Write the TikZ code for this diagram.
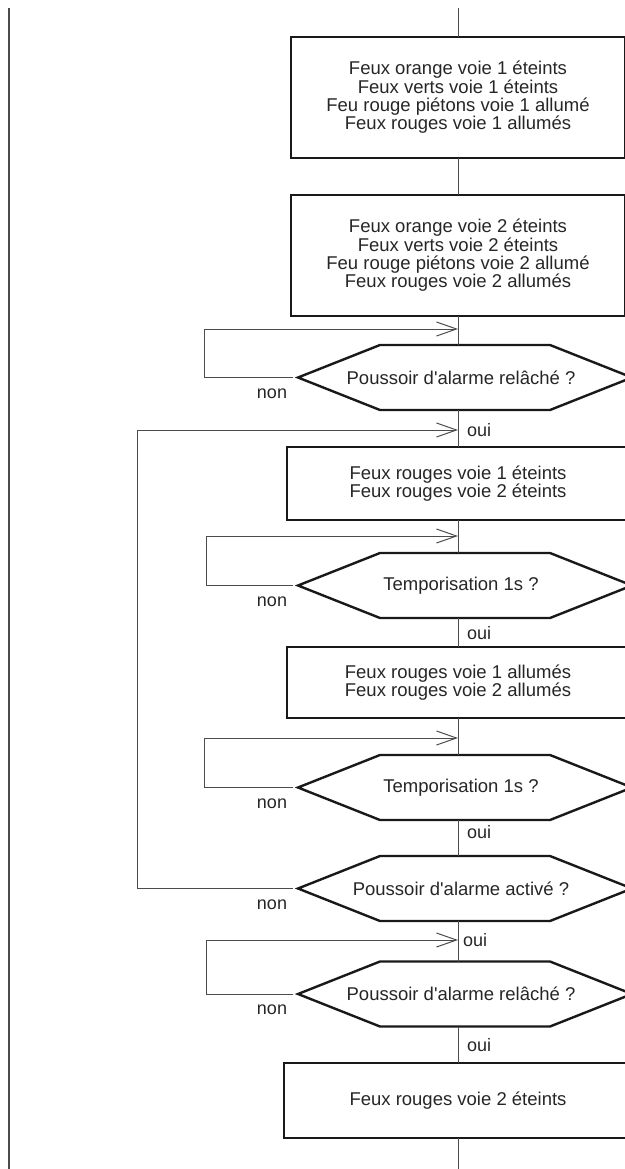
\documentclass[tikz,border=0pt]{standalone}
\usepackage{fontspec}
\setmainfont{Liberation Sans}
\usetikzlibrary{arrows.meta}
\newcommand{\hexa}[3]{%
  \draw[hexline] (298,#2) -- (380,{#2-32.5}) -- (550,{#2-32.5}) -- (632,#2) -- (550,{#2+32.5}) -- (380,{#2+32.5}) -- cycle;
  \node[htext] (#1) at (461,#2) {#3};
  \coordinate (#1-n) at (458,{#2-32.5});
  \coordinate (#1-s) at (458,{#2+32.5});
  \coordinate (#1-l) at (293,#2);
  \node[lbl] (#1-non) at (272,{#2+16}) {non};
}
\begin{document}
\begin{tikzpicture}[x=1pt,y=-1pt,
  box/.style={draw=black!90, line width=2.4pt, inner sep=0pt, outer sep=0pt, align=center,
    font=\fontsize{18.5}{18.4}\selectfont, text=black!85},
  hexline/.style={draw=black!90, line width=2.4pt, line join=miter},
  htext/.style={inner sep=0pt, font=\fontsize{18.5}{18.4}\selectfont, text=black!85},
  link/.style={draw=black!70, line width=1pt},
  arr/.style={link, -{Straight Barb[length=20pt,width=14pt]}},
  lbl/.style={font=\fontsize{18}{18}\selectfont, text=black!85, inner sep=0pt}]
\useasboundingbox (0,0) rectangle (624,1169);

% left margin line
\coordinate (lt) at (9,8);
\coordinate (lb) at (9,1169);
\draw[link, line width=1.3pt] (lt) -- (lb);

% process boxes
\node[box, minimum width=334pt, minimum height=121pt] (b1) at (458,97.5)
  {Feux orange voie 1 éteints\\Feux verts voie 1 éteints\\Feu rouge piétons voie 1 allumé\\Feux rouges voie 1 allumés};
\node[box, minimum width=334pt, minimum height=121pt] (b2) at (458,255.5)
  {Feux orange voie 2 éteints\\Feux verts voie 2 éteints\\Feu rouge piétons voie 2 allumé\\Feux rouges voie 2 allumés};
\node[box, minimum width=342pt, minimum height=73pt] (b3) at (458,483.5)
  {Feux rouges voie 1 éteints\\Feux rouges voie 2 éteints};
\node[box, minimum width=342pt, minimum height=71pt] (b4) at (458,682.5)
  {Feux rouges voie 1 allumés\\Feux rouges voie 2 allumés};
\node[box, minimum width=348pt, minimum height=75pt] (b5) at (458,1100.5)
  {Feux rouges voie 2 éteints};

% decisions
\hexa{h1}{377.5}{Poussoir d\textquotesingle alarme relâché ?}
\hexa{h2}{585.5}{Temporisation 1s ?}
\hexa{h3}{787.5}{Temporisation 1s ?}
\hexa{h4}{888.5}{Poussoir d\textquotesingle alarme activé ?}
\hexa{h5}{994}{Poussoir d\textquotesingle alarme relâché ?}

% oui labels
\node[lbl, anchor=west] (o1) at (467,430) {oui};
\node[lbl, anchor=west] (o2) at (467,633) {oui};
\node[lbl, anchor=west] (o3) at (467,832) {oui};
\node[lbl, anchor=west] (o4) at (463,940) {oui};
\node[lbl, anchor=west] (o5) at (467,1045) {oui};

% main flow
\coordinate (top) at (458,8);
\coordinate (bot) at (458,1169);
\draw[link] (top) -- (b1);
\draw[link] (b1) -- (b2);
\draw[link] (b2) -- (h1-n);
\draw[link] (h1-s) -- (b3);
\draw[link] (b3) -- (h2-n);
\draw[link] (h2-s) -- (b4);
\draw[link] (b4) -- (h3-n);
\draw[link] (h3-s) -- (h4-n);
\draw[link] (h4-s) -- (h5-n);
\draw[link] (h5-s) -- (b5);
\draw[link] (b5) -- (bot);

% loop-back connectors
\coordinate (m1) at (458,329);  \coordinate (c1) at (204,329);
\coordinate (m0) at (458,430);  \coordinate (c0) at (137,430);
\coordinate (m2) at (458,536);  \coordinate (c2) at (206,536);
\coordinate (m3) at (458,738);  \coordinate (c3) at (204,738);
\coordinate (m5) at (458,940);  \coordinate (c5) at (206,940);
\draw[arr] (h1-l) -| (c1) -- (m1);
\draw[arr] (h4-l) -| (c0) -- (m0);
\draw[arr] (h2-l) -| (c2) -- (m2);
\draw[arr] (h3-l) -| (c3) -- (m3);
\draw[arr] (h5-l) -| (c5) -- (m5);
\end{tikzpicture}
\end{document}
